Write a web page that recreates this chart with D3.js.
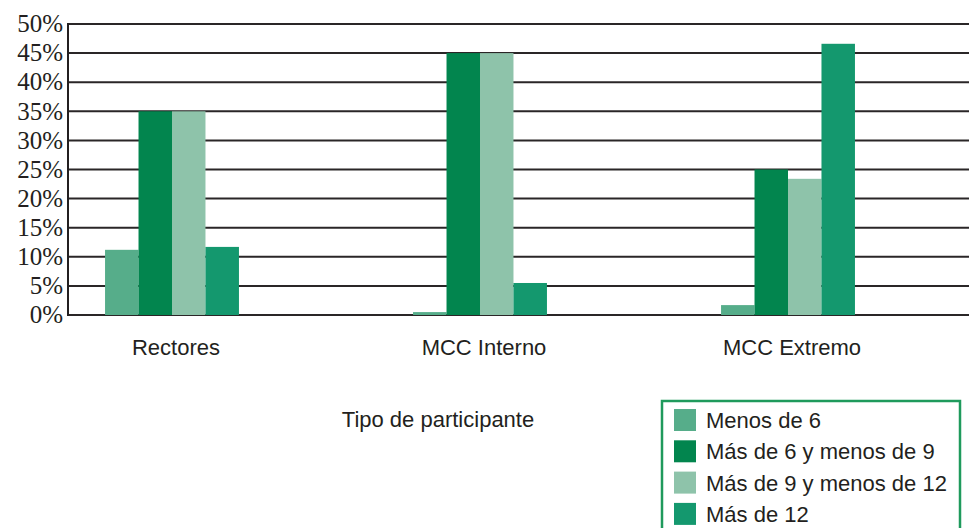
<!DOCTYPE html>
<html>
<head>
<meta charset="utf-8">
<script src="https://cdn.jsdelivr.net/npm/d3@7"></script>
<style>
  body { margin: 0; background: #fff; }
  svg { display: block; }
  .ytick text { font-family: "Liberation Serif", "DejaVu Serif", serif; font-size: 25px; fill: #231f20; }
  .cat text, .title, .legend text { font-family: "Liberation Sans", Arial, sans-serif; fill: #231f20; }
</style>
</head>
<body>
<div class="layout"></div>
<script>
// chart data
var categories = ["Rectores", "MCC Interno", "MCC Extremo"];
var seriesNames = ["Menos de 6", "Más de 6 y menos de 9", "Más de 9 y menos de 12", "Más de 12"];
var menos6 = [11.2, 0.5, 1.7];
var de6a9 = [35, 45, 25];
var de9a12 = [35, 45, 23.4];
var mas12 = [11.7, 5.5, 46.6];
var yTicks = [0, 5, 10, 15, 20, 25, 30, 35, 40, 45, 50];
var colors = ["#56ad8a", "#02854e", "#8ec3aa", "#14986e"];

var seriesValues = [menos6, de6a9, de9a12, mas12];

var width = 969, height = 528;
var plotLeft = 68, plotRight = 969, plotTop = 24, plotBottom = 315;

var svg = d3.select(".layout").append("svg")
        .attr("width", width)
        .attr("height", height);

var y = d3.scaleLinear()
        .domain([0, 50])
        .range([plotBottom, plotTop]);

var x0 = d3.scaleBand()
        .domain(categories)
        .range([18, 942])
        .paddingInner(0)
        .paddingOuter(0);

var x1 = d3.scaleBand()
        .domain(seriesNames)
        .range([0, x0.bandwidth()])
        .paddingInner(0)
        .paddingOuter(2.6);

// grid lines
var grid = svg.append("g").attr("class", "ytick");
grid.selectAll("line")
        .data(yTicks)
        .enter().append("line")
        .attr("x1", plotLeft)
        .attr("x2", plotRight)
        .attr("y1", function(d) { return y(d); })
        .attr("y2", function(d) { return y(d); })
        .attr("stroke", "#2a2627")
        .attr("stroke-width", 2);

grid.selectAll("text")
        .data(yTicks)
        .enter().append("text")
        .attr("x", 63)
        .attr("y", function(d) { return y(d); })
        .attr("dy", "0.33em")
        .attr("text-anchor", "end")
        .text(function(d) { return d + "%"; });

// bars
var rows = categories.map(function(c, i) {
        return seriesNames.map(function(s, j) { return {cat: c, key: s, value: seriesValues[j][i], idx: j}; });
});

svg.append("g").selectAll("g")
        .data(rows)
        .enter().append("g")
        .attr("transform", function(d) { return "translate(" + x0(d[0].cat) + ",0)"; })
        .selectAll("rect")
        .data(function(d) { return d; })
        .enter().append("rect")
        .attr("x", function(d) { return x1(d.key); })
        .attr("width", x1.bandwidth())
        .attr("y", function(d) { return y(d.value); })
        .attr("height", function(d) { return y(0) - y(d.value); })
        .attr("fill", function(d) { return colors[d.idx]; });

// left axis line
svg.append("line")
        .attr("x1", plotLeft).attr("x2", plotLeft)
        .attr("y1", plotTop - 1).attr("y2", plotBottom + 1)
        .attr("stroke", "#231f20")
        .attr("stroke-width", 2);

// category labels
svg.append("g").attr("class", "cat")
        .selectAll("text")
        .data(categories)
        .enter().append("text")
        .attr("x", function(d) { return x0(d) + x0.bandwidth() / 2 + 4; })
        .attr("y", 355)
        .attr("text-anchor", "middle")
        .style("font-size", "22px")
        .text(function(d) { return d; });

svg.append("text")
        .attr("class", "title")
        .attr("x", 438)
        .attr("y", 427)
        .attr("text-anchor", "middle")
        .style("font-size", "22px")
        .text("Tipo de participante");

// legend
var legend = svg.append("g").attr("class", "legend");
legend.append("rect")
        .attr("x", 662)
        .attr("y", 401)
        .attr("width", 298)
        .attr("height", 140)
        .attr("fill", "none")
        .attr("stroke", "#1f9a5c")
        .attr("stroke-width", 2.5);

var item = legend.selectAll("g.item")
        .data(seriesNames)
        .enter().append("g")
        .attr("class", "item")
        .attr("transform", function(d, i) { return "translate(674," + (409 + i * 31.3) + ")"; });

item.append("rect")
        .attr("width", 22)
        .attr("height", 22)
        .attr("fill", function(d, i) { return colors[i]; });

item.append("text")
        .attr("x", 32)
        .attr("y", 19)
        .style("font-size", "22px")
        .text(function(d) { return d; });
</script>
</body>
</html>
